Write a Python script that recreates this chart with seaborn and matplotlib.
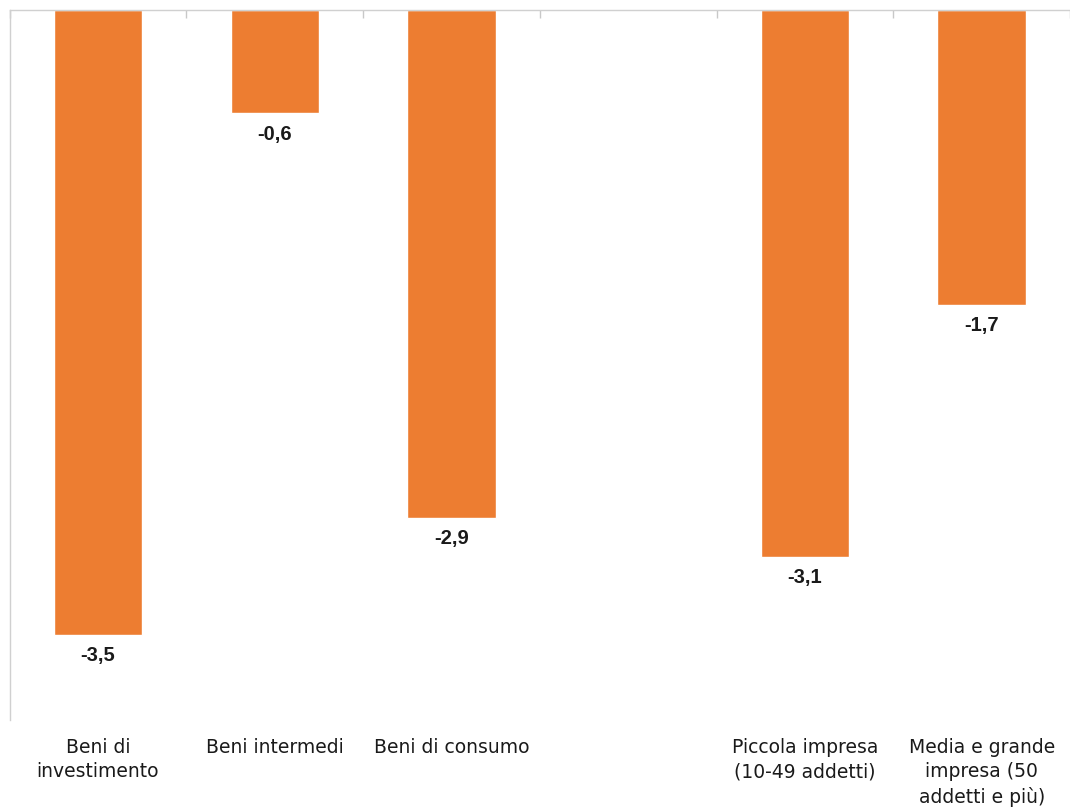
import numpy as np
import pandas as pd
import seaborn as sns
import matplotlib.pyplot as plt
from matplotlib.ticker import FixedLocator

# categories (the 4th slot is an empty gap in the original chart)
categories = ['Beni di\ninvestimento', 'Beni intermedi', 'Beni di consumo', ' ',
              'Piccola impresa\n(10-49 addetti)', 'Media e grande\nimpresa (50\naddetti e più)']
values = [-3.52, -0.58, -2.86, np.nan, -3.08, -1.66]
value_labels = ['-3,5', '-0,6', '-2,9', '', '-3,1', '-1,7']

df = pd.DataFrame({'categoria': categories, 'valore': values})

sns.set_style('white')
plt.rcParams['font.family'] = ['DejaVu Sans']

fig = plt.figure(figsize=(10.7, 8.09), dpi=100)
ax = fig.add_axes([0.009, 0.11, 0.991, 0.8776])

sns.barplot(data=df.dropna(), x='categoria', y='valore', order=categories,
            color='#ED7D31', saturation=1, width=0.5, ax=ax)

ax.set_ylim(-4.0, 0)
ax.set_xlim(-0.5, len(categories) - 0.5)
ax.set_xlabel('')
ax.set_ylabel('')
ax.set_yticks([])

# spines: only top (zero line) and left
for side in ['right', 'bottom']:
    ax.spines[side].set_visible(False)
for side in ['top', 'left']:
    ax.spines[side].set_color('#D0D0D0')
    ax.spines[side].set_linewidth(1)

ax.tick_params(axis='x', which='major', bottom=False, top=False, length=0,
               pad=13, labelsize=13.5, labelcolor='#1a1a1a')
for t in ax.get_xticklabels():
    t.set_linespacing(1.35)
ax.xaxis.set_minor_locator(FixedLocator(np.arange(-0.5, len(categories), 1)))
ax.tick_params(axis='x', which='minor', top=True, bottom=False, direction='in',
               length=6, color='#C8C8C8', width=1)

# value labels under each bar
for i, (v, lab) in enumerate(zip(values, value_labels)):
    if np.isnan(v):
        continue
    ax.text(i, v - 0.065, lab, ha='center', va='top', fontsize=14.5,
            fontweight='bold', color='#1a1a1a', family=['Liberation Sans', 'DejaVu Sans'])

fig.savefig('out.png', dpi=100)
